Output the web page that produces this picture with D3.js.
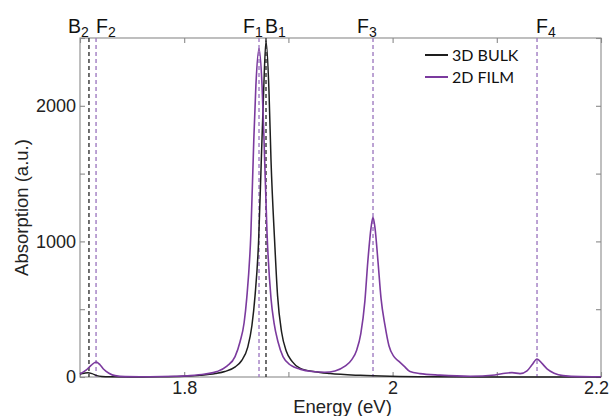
<!DOCTYPE html>
<html><head><meta charset="utf-8">
<script src="https://cdn.jsdelivr.net/npm/d3@7"></script>
<style>body{margin:0;background:#fff}svg{display:block}</style>
</head><body>
<script>
// ---- data ----
const bulkEnergy = [1.700,1.704,1.7077,1.7115,1.7163,1.7211,1.7288,1.748,1.777,1.800,1.815,1.830,1.839,1.849,1.855,1.861,1.865,1.868,1.8714,1.874,1.8762,1.8785,1.8814,1.8833,1.8868,1.8896,1.8935,1.898,1.9035,1.911,1.9255,1.940,1.969,1.9975,2.036,2.084,2.2];
const bulkValue  = [22,28,32,25,10,4,1,0,1,5,12,25,40,75,120,220,380,600,1000,1600,2100,2480,2100,1600,1000,600,330,190,115,65,38,25,12,5,1,0,0];
const filmEnergy = [1.700,1.7058,1.7106,1.7154,1.7192,1.723,1.7278,1.7336,1.7432,1.767,1.791,1.8056,1.820,1.8315,1.841,1.8488,1.8536,1.8575,1.860,1.864,1.8668,1.8688,1.8718,1.8747,1.8766,1.8795,1.8833,1.8862,1.890,1.8948,1.9025,1.911,1.9226,1.935,1.9447,1.9543,1.961,1.9656,1.9695,1.9734,1.9762,1.9793,1.9812,1.9831,1.986,1.9889,1.9927,1.9965,2.0013,2.0061,2.011,2.0167,2.0263,2.0455,2.0743,2.0983,2.1079,2.1146,2.1223,2.129,2.1338,2.1386,2.1434,2.1482,2.155,2.1636,2.18,2.2];
const filmValue  = [22,50,85,111,90,55,28,10,3,2,5,10,22,40,80,150,260,400,580,1060,1750,2150,2420,2150,1750,1060,580,400,260,150,85,58,40,35,45,80,130,200,320,560,850,1100,1178,1100,850,580,380,230,150,115,80,40,25,14,6,15,28,32,25,45,90,133,100,60,28,10,3,2];
const markerNames  = ["B2","F2","F1","B1","F3","F4"];
const markerEnergy = [1.7086,1.7154,1.8718,1.8785,1.9812,2.1386];
const xTickValues = [1.7,1.8,1.9,2.0,2.1,2.2];
const xTickLabels = ["","1.8","","2","","2.2"];
const yTickValues = [0,500,1000,1500,2000,2500];
const yTickLabels = ["0","","1000","","2000",""];
const seriesNames = ["3D BULK","2D FILM"];

// ---- layout ----
const W=616,H=416, L=80,R=601,T=38,B=377;
const black="#1e1e1e", purple="#7b3a9e", purpleDash="#a07cc2", frame="#8a8a8a";
const svg=d3.select("body").append("svg").attr("width",W).attr("height",H);
const x=d3.scaleLinear().domain([1.7,2.2]).range([L,R]);
const y=d3.scaleLinear().domain([0,2500]).range([B,T]);

// frame
svg.append("rect").attr("x",L).attr("y",T).attr("width",R-L).attr("height",B-T)
  .attr("fill","none").attr("stroke",frame).attr("stroke-width",1.1);

const tf="Liberation Sans, Arial, sans-serif";
// axes with inward ticks
const xb=svg.append("g").attr("transform",`translate(0,${B})`)
  .call(d3.axisBottom(x).tickValues(xTickValues).tickSizeInner(-5).tickSizeOuter(0).tickPadding(4)
  .tickFormat((d,i)=>xTickLabels[i]));
const xt=svg.append("g").attr("transform",`translate(0,${T})`)
  .call(d3.axisTop(x).tickValues(xTickValues).tickSizeInner(-5).tickSizeOuter(0).tickFormat(""));
const yl=svg.append("g").attr("transform",`translate(${L},0)`)
  .call(d3.axisLeft(y).tickValues(yTickValues).tickSizeInner(-5).tickSizeOuter(0).tickPadding(4)
  .tickFormat((d,i)=>yTickLabels[i]));
const yr=svg.append("g").attr("transform",`translate(${R},0)`)
  .call(d3.axisRight(y).tickValues(yTickValues).tickSizeInner(-5).tickSizeOuter(0).tickFormat(""));
[xb,xt,yl,yr].forEach(g=>{
  g.select(".domain").remove();
  g.selectAll(".tick line").attr("stroke",frame).attr("stroke-width",1.1);
  g.selectAll(".tick text").attr("font-family",tf).attr("font-size",18).attr("fill","#222");
});
xb.selectAll(".tick text").filter((d)=>d===2.2).attr("dx",-5);

// axis titles
svg.append("text").attr("x",(L+R)/2+2).attr("y",413).attr("text-anchor","middle")
  .attr("font-family",tf).attr("font-size",18.5).attr("fill","#222").text("Energy (eV)");
svg.append("text").attr("transform",`translate(28,${(T+B)/2}) rotate(-90)`).attr("text-anchor","middle")
  .attr("font-family",tf).attr("font-size",18.5).attr("fill","#222").text("Absorption (a.u.)");

// dashed marker lines
markerNames.forEach((n,i)=>{
  svg.append("line").attr("x1",x(markerEnergy[i])).attr("x2",x(markerEnergy[i]))
    .attr("y1",T).attr("y2",B)
    .attr("stroke",n[0]==="B"?"#333":purpleDash).attr("stroke-width",1.4)
    .attr("stroke-dasharray","4,3");
});

// curves
const line=d3.line().curve(d3.curveMonotoneX);
const bulkPts=bulkEnergy.map((e,i)=>[x(e),y(bulkValue[i])]);
const filmPts=filmEnergy.map((e,i)=>[x(e),y(filmValue[i])]);
svg.append("path").attr("d",line(bulkPts)).attr("fill","none").attr("stroke",black).attr("stroke-width",1.5);
svg.append("path").attr("d",line(filmPts)).attr("fill","none").attr("stroke",purple).attr("stroke-width",1.6);

// marker labels
const labelDx={B2:-21,F2:0,F1:-16,B1:-1,F3:-16,F4:-1};
markerNames.forEach((n,i)=>{
  const t=svg.append("text").attr("x",x(markerEnergy[i])+labelDx[n]).attr("y",33)
    .attr("font-family",tf).attr("font-size",19.5).attr("fill","#111");
  t.append("tspan").text(n[0]);
  t.append("tspan").attr("font-size",14).attr("dy",4).text(n.slice(1));
});

// legend
const lf="Lato, 'Open Sans', sans-serif";
[black,purple].forEach((c,i)=>{
  const yy=55+i*22;
  svg.append("line").attr("x1",425).attr("x2",448).attr("y1",yy).attr("y2",yy)
    .attr("stroke",c).attr("stroke-width",2);
  svg.append("text").attr("x",452).attr("y",yy+6).attr("font-family",lf).attr("font-size",16)
    .attr("fill","#111").text(seriesNames[i]);
});
</script>
</body></html>
